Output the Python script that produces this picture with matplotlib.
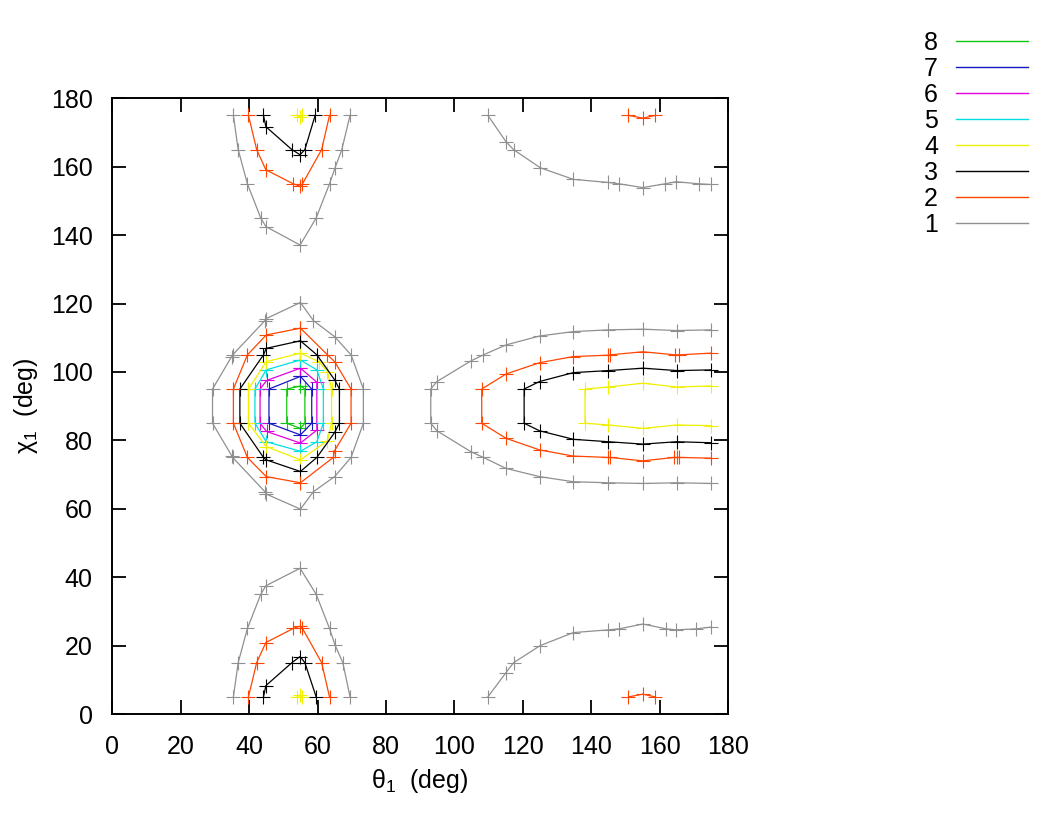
import matplotlib
matplotlib.use('Agg')
import matplotlib.pyplot as plt
from matplotlib.lines import Line2D

plt.rcParams['font.family'] = ['Liberation Sans', 'DejaVu Sans']
plt.rcParams['mathtext.fontset'] = 'custom'
plt.rcParams['mathtext.rm'] = 'Liberation Sans'
plt.rcParams['mathtext.it'] = 'Liberation Sans'
plt.rcParams['mathtext.bf'] = 'Liberation Sans'

# contour levels, drawn from 8 (inner) to 1 (outer)
levels = ['8', '7', '6', '5', '4', '3', '2', '1']
colors = ['#10c810', '#1818c0', '#e000e0', '#00e0e0', '#f0f000', '#000000', '#ff4500', '#909090']

# each level: list of (theta1, chi1) polylines
level1 = [
    ([35.4, 36.8, 39.5, 43.4, 44.9, 54.9, 59.6, 63.5, 65.1, 67.1, 69.5],
     [175, 165, 155, 145, 142.5, 137.1, 145, 155, 159.6, 165, 175]),
    ([55, 58.8, 65, 69.8, 73.4, 73.4, 69.8, 65, 58.8, 55, 45, 44.6, 35.2, 34.9, 29.3, 29.3, 34.9, 35.2, 44.6, 45, 55],
     [120.3, 115, 110.3, 105, 95, 85, 75, 69.4, 65, 59.9, 64.3, 65, 75, 75.5, 85, 95, 104.5, 105, 115, 115.6, 120.3]),
    ([35.4, 36.8, 39.5, 43.4, 44.9, 54.9, 59.6, 63.5, 65.1, 67.4, 69.5],
     [5, 15, 25, 35, 37.5, 42.6, 35, 25, 20.2, 15, 5]),
    ([109.8, 115.1, 117.3, 125.1, 134.8, 145, 148.2, 155.1, 161.6, 164.8, 171.6, 175],
     [175, 167.3, 165, 159.7, 156.3, 155.4, 155, 153.9, 155, 155.6, 155, 154.8]),
    ([175, 165, 155.1, 145, 134.8, 124.9, 115.1, 108.5, 104.8, 94.9, 93.1, 93.1, 94.9, 104.8, 108.5, 115.1, 124.9, 134.8, 145, 155.1, 165, 175],
     [112.3, 112.1, 112.5, 112.3, 111.8, 110.5, 107.9, 105, 103.2, 97.2, 95, 85, 82.8, 76.7, 75, 71.8, 69.4, 67.9, 67.6, 67.4, 67.6, 67.4]),
    ([109.8, 115.1, 117.3, 125.1, 134.8, 145, 148.2, 155.1, 161.9, 164.8, 170.7, 175],
     [5, 12.1, 15, 20, 23.8, 24.6, 24.9, 26.3, 24.9, 24.6, 24.9, 25.4]),
]
level2 = [
    ([39.8, 42.2, 44.9, 52.9, 54.9, 55.6, 61.2, 63.5],
     [175, 165, 159.1, 155, 154.3, 155, 165, 175]),
    ([55, 62.9, 65, 69.8, 69.8, 65, 64.6, 55, 45, 39.5, 35.4, 35.4, 39.5, 45, 55],
     [112.8, 105, 103, 95, 85, 77, 75, 67.6, 69.4, 75, 85, 95, 105, 110.8, 112.8]),
    ([39.8, 42.2, 44.9, 52.9, 54.9, 55.6, 61.2, 63.5],
     [5, 15, 20.9, 25, 25.7, 25, 15, 5]),
    ([175, 165.8, 164.5, 155.1, 145.6, 145, 134.8, 124.9, 115.1, 108, 108, 115.1, 124.9, 134.8, 145, 145.6, 155.1, 164.2, 165, 165.8, 175],
     [105.5, 105, 105, 105.9, 105, 104.9, 104.5, 102.7, 99.4, 95, 85, 80.6, 77.2, 75.4, 75, 75, 74, 75, 75, 75, 74.8]),
    ([150.9, 155.1, 158.7], [175, 174.2, 175]),
    ([150.9, 155.1, 158.7], [5, 5.8, 5]),
]
level3 = [
    ([44.2, 44.9, 52.5, 54.9, 56.3, 59.3], [175, 171.7, 165, 163.5, 165, 175]),
    ([55, 59.8, 65, 66.4, 66.4, 65, 59.8, 55, 45, 44.2, 37.3, 37.3, 44.2, 45, 55],
     [109.1, 105, 97.7, 95, 85, 82.3, 75, 70.9, 74.3, 75, 85, 95, 105, 106.9, 109.1]),
    ([44.2, 44.9, 52.5, 54.9, 56.3, 59.6], [5, 8.3, 15, 16.8, 15, 5]),
    ([175, 165, 155.1, 145, 134.8, 124.9, 120.4, 120.4, 124.9, 134.8, 145, 155.1, 165, 175],
     [100.6, 100.4, 101.1, 100.4, 99.8, 97.2, 95, 85, 82.8, 80.3, 79.6, 78.9, 79.6, 79.3]),
]
level4 = [
    ([54, 54.8, 55.6], [175, 174.5, 175]),
    ([55, 60.4, 62.9, 64.1, 64.1, 62.9, 55, 45, 39.8, 39.8, 45, 55],
     [105.5, 103, 100.1, 95, 85, 79.9, 74.3, 78.2, 85, 95, 103, 105.5]),
    ([54, 54.8, 55.6], [5, 5.5, 5]),
    ([175, 165, 155.1, 145, 138.2, 138.2, 145, 155.1, 165, 175],
     [95.9, 95.6, 96.7, 95.6, 95, 85, 84.5, 83.5, 84.5, 84.3]),
]
level5 = [
    ([55, 59.8, 61.7, 61.7, 59.8, 55, 45, 41.7, 41.7, 45, 55],
     [103.5, 100.6, 95, 85, 79.6, 76.8, 79.6, 85, 95, 100.6, 103.5]),
]
level6 = [
    ([55, 59.8, 59.8, 55, 45.1, 43.2, 43.2, 45.1, 55],
     [101.1, 97, 83, 79.2, 82.6, 85, 95, 97.5, 101.1]),
]
level7 = [
    ([55, 58.3, 58.3, 55, 45.8, 45.8, 55], [98.7, 95, 85, 81.6, 85, 95, 98.7]),
]
level8 = [
    ([55, 56.3, 56.3, 55, 51, 51, 55], [95.9, 95, 85, 83.5, 85, 95, 95.9]),
]
all_levels = [level8, level7, level6, level5, level4, level3, level2, level1]

fig = plt.figure(figsize=(10.5, 8.22), dpi=100)
ax = fig.add_axes([112.3 / 1050, 1 - 714 / 822, 615.7 / 1050, 615.7 / 822])

for segs, col in zip(all_levels, colors):
    for xs, ys in segs:
        ax.plot(xs, ys, color=col, lw=0.9, marker='+', ms=10, mew=0.8)

ax.set_xlim(0, 180)
ax.set_ylim(0, 180)
ax.set_xticks(range(0, 181, 20))
ax.set_yticks(range(0, 181, 20))
ax.tick_params(direction='in', length=10, width=1.3, labelsize=18,
               top=True, right=True)
ax.tick_params(axis='x', pad=15)
ax.tick_params(axis='y', pad=14)
for s in ax.spines.values():
    s.set_linewidth(1.4)

ax.set_xlabel(r'θ$_1$  (deg)', fontsize=18, labelpad=6)
ax.set_ylabel(r'χ$_1$  (deg)', fontsize=18, labelpad=8)

handles = [Line2D([], [], color=c, lw=1) for c in colors]
fig.legend(handles, levels, loc='upper right', bbox_to_anchor=(1028 / 1050, 1 - 31 / 822),
           frameon=False, markerfirst=False, fontsize=18, handlelength=2.9,
           handletextpad=0.7, labelspacing=0.08, borderpad=0, borderaxespad=0)

fig.savefig('out.png', dpi=100)
